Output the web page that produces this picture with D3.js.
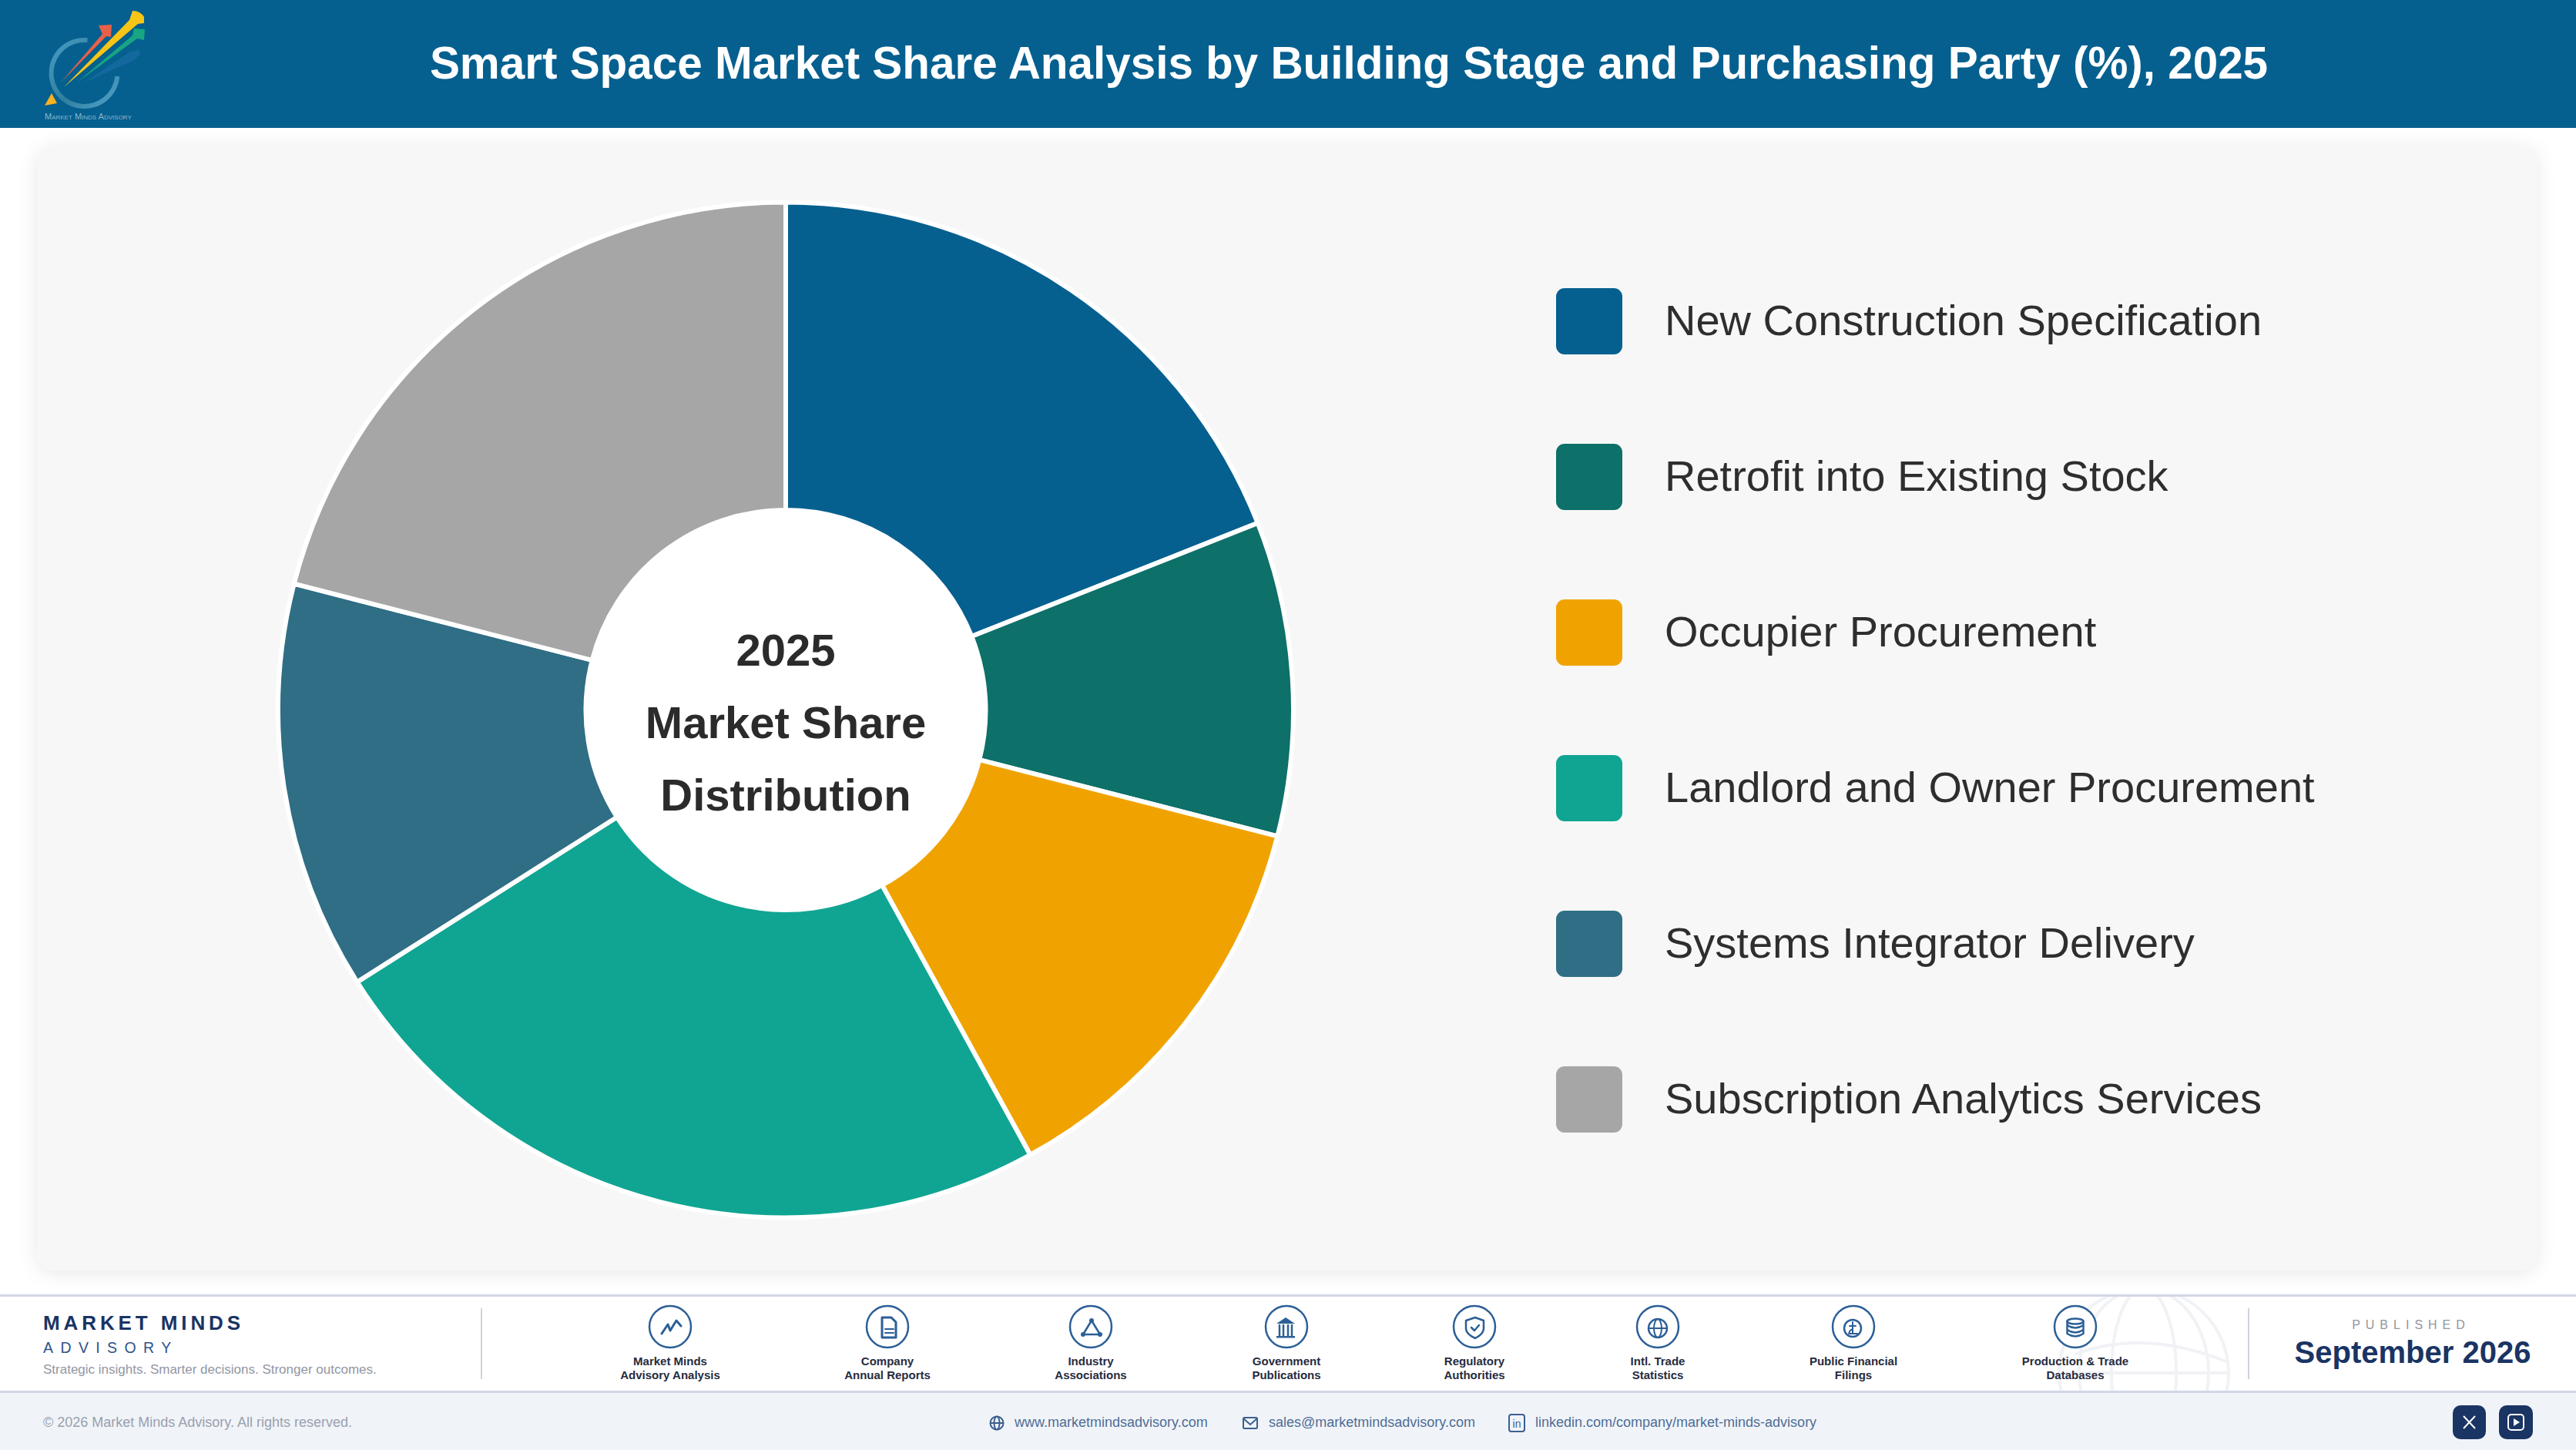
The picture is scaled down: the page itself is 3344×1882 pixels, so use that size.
<!DOCTYPE html>
<html>
<head>
<meta charset="utf-8">
<title>Smart Space Market Share</title>
<script src="https://cdn.jsdelivr.net/npm/d3@7"></script>
<style>
  html, body { margin: 0; padding: 0; background: #fff; }
  svg { display: block; font-family: "Liberation Sans", Arial, sans-serif; }
</style>
</head>
<body>
<div id="chart"></div>
<script>
// chart data
const chartTitle = "Smart Space Market Share Analysis by Building Stage and Purchasing Party (%), 2025";
const centerLines = ["2025", "Market Share", "Distribution"];
const categories = [
  "New Construction Specification",
  "Retrofit into Existing Stock",
  "Occupier Procurement",
  "Landlord and Owner Procurement",
  "Systems Integrator Delivery",
  "Subscription Analytics Services"
];
const shares = [19, 10, 13, 24, 13, 21];
const palette = ["#05608f", "#0d7069", "#f0a300", "#10a592", "#2f6e85", "#a6a6a6"];

// footer text
const sourceNames = [
  ["Market Minds", "Advisory Analysis"],
  ["Company", "Annual Reports"],
  ["Industry", "Associations"],
  ["Government", "Publications"],
  ["Regulatory", "Authorities"],
  ["Intl. Trade", "Statistics"],
  ["Public Financial", "Filings"],
  ["Production & Trade", "Databases"]
];
const contacts = ["www.marketmindsadvisory.com", "sales@marketmindsadvisory.com", "linkedin.com/company/market-minds-advisory"];

const width = 3344, height = 1882;
const navy = "#1a3463", iconBlue = "#2c5f96";

const svg = d3.select("#chart").append("svg")
  .attr("width", width)
  .attr("height", height)
  .attr("viewBox", [0, 0, width, height]);

const defs = svg.append("defs");
const shadow = defs.append("filter").attr("id", "cardShadow")
  .attr("x", "-3%").attr("y", "-5%").attr("width", "106%").attr("height", "110%");
shadow.append("feDropShadow")
  .attr("dx", 0).attr("dy", 4).attr("stdDeviation", 12)
  .attr("flood-color", "#000").attr("flood-opacity", 0.09);

const ringFade = defs.append("linearGradient").attr("id", "ringFade")
  .attr("x1", 0).attr("y1", 0).attr("x2", 1).attr("y2", 1);
ringFade.append("stop").attr("offset", "0%").attr("stop-color", "#4a9cc4");
ringFade.append("stop").attr("offset", "55%").attr("stop-color", "#2f7f9f");
ringFade.append("stop").attr("offset", "100%").attr("stop-color", "#56a6cf");

// --- Header ---
svg.append("rect").attr("width", width).attr("height", 166).attr("fill", "#05608f");
svg.append("text")
  .attr("x", 1751).attr("y", 102)
  .attr("text-anchor", "middle")
  .attr("font-size", 58.4).attr("font-weight", 700).attr("fill", "#fff")
  .text(chartTitle);

// logo
const logo = svg.append("g");
logo.append("path")
  .attr("transform", "translate(109.5,95)")
  .attr("d", d3.arc().innerRadius(40).outerRadius(46).startAngle(Math.PI * 0.53).endAngle(Math.PI * 2.03)())
  .attr("fill", "url(#ringFade)");
logo.append("path").attr("d", "M108,108 L168,68 L180,64 L182,70 L174,78 Z").attr("fill", "#1d6fa8").attr("opacity", 0.6);
logo.append("path").attr("d", "M79,107 L133,44 L128,33 L145,32 L144,48 L138,47 Z").attr("fill", "#e8604a");
logo.append("path").attr("d", "M83,113 L168,26 L172,14 Q182,14 187,22 L187,30 L179,31 Z").attr("fill", "#f7c516");
logo.append("path").attr("d", "M100,107 L172,46 L174,37 L188,38 L187,52 L178,50 Z").attr("fill", "#17a583");
logo.append("path").attr("d", "M58,137 L67,121 L74,134 Z").attr("fill", "#f9b11f");
logo.append("text")
  .attr("x", 58).attr("y", 155)
  .attr("font-size", 11).attr("fill", "#8fb6cc").attr("font-variant", "small-caps")
  .text("Market Minds Advisory");

// --- Card ---
svg.append("rect")
  .attr("x", 48).attr("y", 188).attr("width", 3246).attr("height", 1461)
  .attr("rx", 24)
  .attr("fill", "#f7f7f7")
  .attr("filter", "url(#cardShadow)");

// --- Donut ---
const cx = 1020, cy = 921.5, outerR = 659, innerR = 259.5;
const color = d3.scaleOrdinal().domain(categories).range(palette);
const pie = d3.pie().sort(null).value(d => d.share);
const arc = d3.arc().innerRadius(innerR).outerRadius(outerR);
const slices = categories.map((name, i) => ({ name, share: shares[i] }));

const donut = svg.append("g").attr("transform", `translate(${cx},${cy})`);
donut.append("circle").attr("r", innerR + 1).attr("fill", "#fff");
donut.selectAll("path.slice")
  .data(pie(slices))
  .join("path")
  .attr("class", "slice")
  .attr("d", arc)
  .attr("fill", d => color(d.data.name))
  .attr("stroke", "#fff")
  .attr("stroke-width", 6)
  .attr("stroke-linejoin", "round");

const baselineY = d3.scalePoint().domain(centerLines).range([-58, 130]);
donut.selectAll("text.center")
  .data(centerLines)
  .join("text")
  .attr("class", "center")
  .attr("text-anchor", "middle")
  .attr("y", d => baselineY(d))
  .attr("font-size", 58).attr("font-weight", 700).attr("fill", "#2b2b2b")
  .text(d => d);

// --- Legend ---
const legendY = d3.scalePoint().domain(categories).range([374, 1384]);
const legend = svg.append("g").selectAll("g")
  .data(categories)
  .join("g")
  .attr("transform", d => `translate(2020,${legendY(d)})`);
legend.append("rect")
  .attr("width", 86).attr("height", 86).attr("rx", 11)
  .attr("fill", d => color(d));
legend.append("text")
  .attr("x", 141).attr("y", 61)
  .attr("font-size", 56).attr("fill", "#2e2e2e")
  .text(d => d);

// --- Footer ---
svg.append("rect").attr("y", 1681).attr("width", width).attr("height", 126).attr("fill", "#fff");
svg.append("rect").attr("y", 1807).attr("width", width).attr("height", 75).attr("fill", "#f0f4f9");

// faint globe behind the source strip
const clipGlobe = defs.append("clipPath").attr("id", "stripClip");
clipGlobe.append("rect").attr("y", 1681).attr("width", width).attr("height", 126);
const globe = svg.append("g")
  .attr("clip-path", "url(#stripClip)")
  .attr("fill", "none").attr("stroke", "#f1f2f6").attr("stroke-width", 4);
globe.append("circle").attr("cx", 2783).attr("cy", 1782).attr("r", 110);
globe.append("ellipse").attr("cx", 2783).attr("cy", 1782).attr("rx", 42).attr("ry", 110);
globe.append("ellipse").attr("cx", 2783).attr("cy", 1782).attr("rx", 84).attr("ry", 110);
globe.append("path").attr("d", "M2673,1782 H2893 M2693,1758 Q2783,1724 2890,1767");

svg.append("rect").attr("y", 1680).attr("width", width).attr("height", 3).attr("fill", "#d2d6e6");
svg.append("rect").attr("y", 1805).attr("width", width).attr("height", 3).attr("fill", "#d2d6e6");

// brand block
svg.append("text").attr("x", 56).attr("y", 1726)
  .attr("font-size", 26).attr("font-weight", 700).attr("fill", navy).attr("letter-spacing", 4.9)
  .text("MARKET MINDS");
svg.append("text").attr("x", 56).attr("y", 1756)
  .attr("font-size", 19.5).attr("fill", "#2f5488").attr("letter-spacing", 9.4)
  .text("ADVISORY");
svg.append("text").attr("x", 56).attr("y", 1783)
  .attr("font-size", 17).attr("fill", "#9296a3")
  .text("Strategic insights. Smarter decisions. Stronger outcomes.");

svg.append("line").attr("x1", 625).attr("x2", 625).attr("y1", 1698).attr("y2", 1790)
  .attr("stroke", "#cfd3dc").attr("stroke-width", 2);
svg.append("line").attr("x1", 2919).attr("x2", 2919).attr("y1", 1698).attr("y2", 1790)
  .attr("stroke", "#cfd3dc").attr("stroke-width", 2);

// source icons, one small drawing per source
const sourceX = d3.scaleOrdinal()
  .domain(sourceNames.map(d => d[0]))
  .range([870, 1152, 1416, 1670, 1914, 2152, 2406, 2694]);

const iconDrawers = [
  g => g.append("path").attr("fill", "none").attr("stroke-width", 3)
    .attr("d", "M-11,9 L-3,-3 L0,5 L8,-8 L14,-1"),
  g => {
    g.append("path").attr("fill", "none").attr("stroke-width", 3).attr("d", "M-7,-12 H5 L11,-6 V14 H-7 Z");
    g.append("path").attr("fill", "none").attr("stroke-width", 2).attr("d", "M-3,3 H8 M-3,8 H8");
  },
  g => {
    g.append("path").attr("fill", "none").attr("stroke-width", 2.5).attr("d", "M1,-8 L-10,10 H12 Z");
    g.selectAll("circle.n").data([[1, -8], [-10, 10], [12, 10]]).join("circle").attr("class", "n")
      .attr("cx", d => d[0]).attr("cy", d => d[1]).attr("r", 3).attr("fill", iconBlue).attr("stroke", "none");
  },
  g => {
    g.append("path").attr("fill", iconBlue).attr("stroke", "none").attr("d", "M-1,-12 L11,-4 H-13 Z");
    g.append("path").attr("fill", "none").attr("stroke-width", 2.5).attr("d", "M-9,-2 V12 M-4,-2 V12 M2,-2 V12 M7,-2 V12");
    g.append("rect").attr("x", -13).attr("y", 12).attr("width", 24).attr("height", 2.5).attr("fill", iconBlue).attr("stroke", "none");
  },
  g => {
    g.append("path").attr("fill", "none").attr("stroke-width", 2.5)
      .attr("d", "M1,-12 L12,-8 V3 Q11,10 1,15 Q-10,10 -11,3 V-8 Z");
    g.append("path").attr("fill", "none").attr("stroke-width", 2.5).attr("d", "M-4,1 L0,5 L6,-2");
  },
  g => {
    g.append("circle").attr("cy", 2).attr("r", 12).attr("fill", "none").attr("stroke-width", 2.5);
    g.append("ellipse").attr("cy", 2).attr("rx", 5).attr("ry", 12).attr("fill", "none").attr("stroke-width", 2);
    g.append("path").attr("fill", "none").attr("stroke-width", 2).attr("d", "M-12,2 H12");
  },
  g => {
    g.append("circle").attr("cx", -1).attr("cy", 2).attr("r", 11).attr("fill", "none").attr("stroke-width", 2.5);
    g.append("path").attr("fill", "none").attr("stroke-width", 2)
      .attr("d", "M-1,-6 V9 M-5,-1 H3 M-6,9 H5 M-1,3 Q-7,6 -5,9");
  },
  g => {
    g.append("ellipse").attr("cy", -7).attr("rx", 10.5).attr("ry", 3.5).attr("fill", "none").attr("stroke-width", 2.5);
    g.append("path").attr("fill", "none").attr("stroke-width", 2.5)
      .attr("d", "M-10.5,-7 V9 Q0,16 10.5,9 V-7 M-10.5,-2 Q0,5 10.5,-2 M-10.5,4 Q0,11 10.5,4");
  }
];

const sources = svg.append("g").selectAll("g")
  .data(sourceNames)
  .join("g")
  .attr("transform", d => `translate(${sourceX(d[0])},1722)`);
sources.append("circle").attr("r", 27).attr("fill", "#fff").attr("stroke", iconBlue).attr("stroke-width", 2.5);
sources.append("g")
  .attr("stroke", iconBlue).attr("stroke-linejoin", "round").attr("stroke-linecap", "round")
  .each(function (d, i) { iconDrawers[i](d3.select(this)); });
sources.selectAll("text")
  .data(d => d)
  .join("text")
  .attr("text-anchor", "middle")
  .attr("y", (d, i) => 50 + i * 18)
  .attr("font-size", 15).attr("font-weight", 700).attr("fill", "#262c40")
  .text(d => d);

// published block
svg.append("text").attr("x", 3130).attr("y", 1725).attr("text-anchor", "middle")
  .attr("font-size", 16).attr("fill", "#92959f").attr("letter-spacing", 7)
  .text("PUBLISHED");
svg.append("text").attr("x", 3132).attr("y", 1769).attr("text-anchor", "middle")
  .attr("font-size", 40).attr("font-weight", 700).attr("fill", navy)
  .text("September 2026");

// bottom bar
svg.append("text").attr("x", 56).attr("y", 1852)
  .attr("font-size", 18).attr("fill", "#9aa0ad")
  .text("© 2026 Market Minds Advisory. All rights reserved.");

const contactX = d3.scaleOrdinal().domain(contacts).range([1317, 1647, 1993]);
svg.append("g").selectAll("text")
  .data(contacts)
  .join("text")
  .attr("x", d => contactX(d)).attr("y", 1852)
  .attr("font-size", 18).attr("fill", "#4f6d95")
  .text(d => d);

const contactIcons = svg.append("g").attr("fill", "none").attr("stroke", "#3d5f8e").attr("stroke-width", 2);
const webIcon = contactIcons.append("g").attr("transform", "translate(1294,1847)");
webIcon.append("circle").attr("r", 8.5);
webIcon.append("ellipse").attr("rx", 3.5).attr("ry", 8.5);
webIcon.append("path").attr("d", "M-8.5,0 H8.5");
const mailIcon = contactIcons.append("g").attr("transform", "translate(1623,1847)");
mailIcon.append("rect").attr("x", -9).attr("y", -7).attr("width", 18).attr("height", 14).attr("rx", 1.5);
mailIcon.append("path").attr("d", "M-9,-6 L0,2 L9,-6");
const linkedIcon = contactIcons.append("g").attr("transform", "translate(1969,1847)");
linkedIcon.append("rect").attr("x", -10).attr("y", -11).attr("width", 20).attr("height", 22).attr("rx", 3);
linkedIcon.append("text").attr("text-anchor", "middle").attr("y", 6)
  .attr("font-size", 14).attr("fill", "#3d5f8e").attr("stroke", "none").text("in");

// social buttons
svg.append("rect").attr("x", 3184).attr("y", 1824).attr("width", 43).attr("height", 44).attr("rx", 10).attr("fill", navy);
svg.append("rect").attr("x", 3244).attr("y", 1824).attr("width", 44).attr("height", 44).attr("rx", 10).attr("fill", navy);
svg.append("path").attr("d", "M3198,1838 L3213,1854 M3213,1838 L3198,1854")
  .attr("stroke", "#fff").attr("stroke-width", 2).attr("fill", "none");
svg.append("rect").attr("x", 3256).attr("y", 1836).attr("width", 20).attr("height", 20).attr("rx", 4)
  .attr("fill", "none").attr("stroke", "#fff").attr("stroke-width", 2);
svg.append("path").attr("d", "M3263,1841 L3271,1846 L3263,1851 Z").attr("fill", "#fff");
</script>
</body>
</html>
